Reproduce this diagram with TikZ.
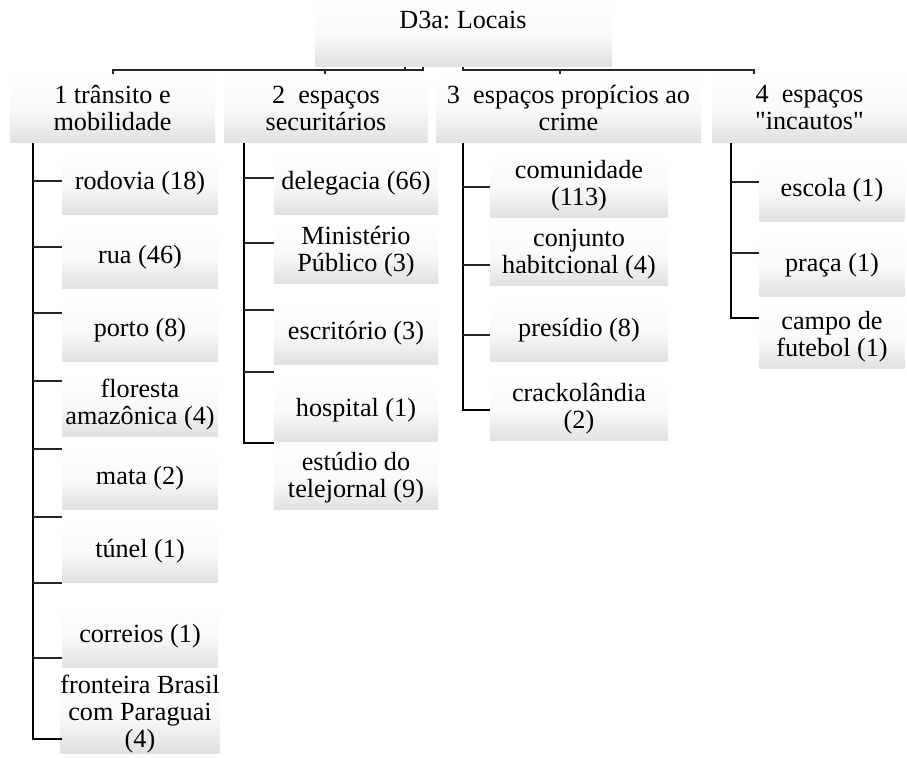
\documentclass[tikz,border=0pt]{standalone}
\usepackage{fontspec}
\setmainfont{Liberation Serif}
\frenchspacing
\usetikzlibrary{positioning, backgrounds}
\tikzstyle{topic} = [rectangle, inner sep=0pt, minimum height=35pt, align=center, top color=white, bottom color=black!12, middle color=black!2]
\tikzstyle{leaf} = [rectangle, inner sep=0pt, minimum height=32pt, align=center, top color=white, bottom color=black!12, middle color=black!2]
\tikzstyle{trunk} = [line width=1.1pt, black]
\tikzstyle{stub} = [line width=0.6pt, black!85]

\begin{document}
\begin{tikzpicture}[x=0.5pt, y=-0.5pt, font=\fontsize{13.1}{13.5}\selectfont]
\useasboundingbox (0,0) rectangle (907,758);
\clip (0,0) rectangle (907,758);

% Root
\node (root) [topic, minimum width=148.5pt, minimum height=33.5pt] at (463.5,33.5) {};
\node (roottxt) at (463,20) {D3a: Locais};

% First level
\node (c1) [topic, minimum width=102.5pt] at (112.5,108) {1 trânsito e\\mobilidade};
\node (c2) [topic, minimum width=102pt] at (326,108) {2~ espaços\\securitários};
\node (c3) [topic, minimum width=132.5pt] at (568.5,108) {3~ espaços propícios ao\\crime};
\node (c4) [topic, minimum width=97.5pt] at (809.5,108) {4~ espaços\\\textquotedbl incautos\textquotedbl};

% 1 transito e mobilidade
\node (rod) [leaf, minimum width=78pt] at (140,183) {rodovia (18)};
\node (rua) [leaf, minimum width=78pt] at (140,257) {rua (46)};
\node (porto) [leaf, minimum width=78pt] at (140,330) {porto (8)};
\node (flor) [leaf, minimum width=78pt] at (140,405) {floresta\\amazônica (4)};
\node (mata) [leaf, minimum width=78pt] at (140,478) {mata (2)};
\node (tunel) [leaf, minimum width=78pt] at (140,551) {túnel (1)};
\node (corr) [leaf, minimum width=78pt] at (140,636) {correios (1)};
\node (front) [leaf, minimum width=78pt] at (140,714) {fronteira Brasil\\com Paraguai\\(4)};

% 2 espacos securitarios
\node (deleg) [leaf, minimum width=82pt] at (356,183) {delegacia (66)};
\node (minpub) [leaf, minimum width=82pt] at (356,252) {Ministério\\Público (3)};
\node (escr) [leaf, minimum width=82pt] at (356,333) {escritório (3)};
\node (hosp) [leaf, minimum width=82pt] at (356,410) {hospital (1)};
\node (estud) [leaf, minimum width=82pt] at (356,478) {estúdio do\\telejornal (9)};

% 3 espacos propicios ao crime
\node (comun) [leaf, minimum width=89pt] at (579,186) {comunidade\\(113)};
\node (conj) [leaf, minimum width=89pt] at (579,254) {conjunto\\habitcional (4)};
\node (pres) [leaf, minimum width=89pt] at (579,330) {presídio (8)};
\node (crack) [leaf, minimum width=89pt] at (579,409) {crackolândia\\(2)};

% 4 espacos incautos
\node (escola) [leaf, minimum width=72.5pt] at (832,190) {escola (1)};
\node (praca) [leaf, minimum width=72.5pt] at (832,265) {praça (1)};
\node (campo) [leaf, minimum width=72.5pt] at (832,337) {campo de\\futebol (1)};

% Root connectors
\draw[stub] (root.south -| 423,0) -- (423,70) -- (113,70) -- (113,74);
\draw[stub] (325,70) -- (325,74);
\draw[stub] (405,70) -- (root.south -| 405,0);
\draw[stub] (root.south -| 463,0) -- (463,70) -- (754,70) -- (754,74);
\draw[stub] (560,70) -- (560,74);

% Column connectors
\draw[trunk] (c1.south -| 33,0) -- (33,739) -- (rod.west |- 0,739);
\foreach \y in {181,247,313,381,449,517,583,658}
  \draw[stub] (33,\y) -- (rod.west |- 0,\y);
\draw[trunk] (c2.south -| 244,0) -- (244,443) -- (deleg.west |- 0,443);
\foreach \y in {178,243,310,372}
  \draw[stub] (244,\y) -- (deleg.west |- 0,\y);
\draw[trunk] (c3.south -| 463,0) -- (463,410) -- (comun.west |- 0,410);
\foreach \y in {187,265,335}
  \draw[stub] (463,\y) -- (comun.west |- 0,\y);
\draw[trunk] (c4.south -| 731,0) -- (731,318) -- (escola.west |- 0,318);
\foreach \y in {182,253}
  \draw[stub] (731,\y) -- (escola.west |- 0,\y);

\end{tikzpicture}
\end{document}
